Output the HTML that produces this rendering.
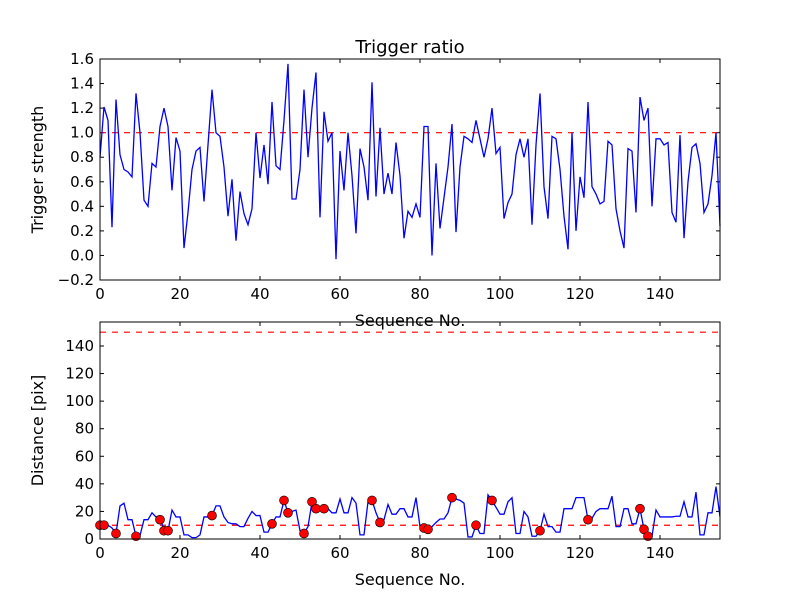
<!DOCTYPE html>
<html><head><meta charset="utf-8"><style>
body{margin:0;background:#fff}
svg{font-family:"DejaVu Sans","Liberation Sans",sans-serif}
</style></head><body>
<svg id="chart" width="800" height="600" xmlns="http://www.w3.org/2000/svg"></svg>
<script>
const strength=[0.8,1.21,1.1,0.23,1.27,0.82,0.7,0.68,0.64,1.32,1.0,0.45,0.4,0.75,0.72,1.05,1.2,1.05,0.53,0.96,0.85,0.06,0.35,0.7,0.85,0.88,0.44,0.9,1.35,1.0,0.97,0.72,0.32,0.62,0.12,0.52,0.34,0.25,0.38,1.0,0.63,0.9,0.58,1.25,0.73,0.7,1.1,1.56,0.46,0.46,0.7,1.35,0.8,1.2,1.49,0.31,1.17,0.93,1.0,-0.03,0.85,0.53,1.0,0.65,0.18,0.87,0.72,0.45,1.41,0.48,1.04,0.5,0.67,0.5,0.92,0.65,0.14,0.36,0.31,0.42,0.31,1.05,1.05,0.0,0.75,0.22,0.47,0.72,1.07,0.19,0.72,0.97,0.95,0.92,1.1,0.95,0.8,0.95,1.2,0.83,0.88,0.3,0.43,0.5,0.82,0.95,0.8,0.95,0.25,0.9,1.32,0.56,0.3,0.97,0.95,0.7,0.32,0.05,1.0,0.2,0.64,0.47,1.25,0.56,0.5,0.42,0.44,0.93,0.9,0.38,0.2,0.06,0.87,0.85,0.35,1.29,1.1,1.2,0.4,0.95,0.95,0.9,0.92,0.35,0.27,0.98,0.14,0.6,0.88,0.91,0.75,0.35,0.42,0.65,1.0,0.24];
const distance=[13,10,10,8,4,24,26,14,14,2,2.5,14,14,19,16,16,6,6,21,16,16,3,3,1,1,3,16,16,17,24,24,16,12,11,11,9,9,15,20,17,17,5,5,11,16,16,28,19,20,21,6,4,9,27,22,22,22,22,19,19,29,19,19,30,26,3,3,27,28,19,12,14,25,18,18,22,22,16,16,30,9,8,7,9,12,14.5,14.5,19,30,29,28,26,1.5,1.5,10,4,4,32,28,23,18,18,27,30,4,4,20,16,2,2,6,18,9,9,5,5,22,22,22,30,30,30,14,15,20,22,22,22,31,9,9,22,22,11,11,22,7,2,2,21,16,16,16,16,16.5,16.5,27,16,16,34,3,3,19,19,38,16];
const markIdx=[0,1,4,9,15,16,17,28,43,46,47,51,53,54,56,68,70,81,82,88,94,98,110,122,135,136,137];
const markVal=[10,10,4,2,14,6,6,17,11,28,19,4,27,22,22,28,12,8,7,30,10,28,6,14,22,7,2];
const topTicks=[-0.2,0,0.2,0.4,0.6,0.8,1.0,1.2,1.4,1.6];
const botTicks=[0,20,40,60,80,100,120,140];
const xTicks=[0,20,40,60,80,100,120,140];
const topRef=[1.0];
const botRef=[10,150];

const svg=document.getElementById('chart');
const NS='http://www.w3.org/2000/svg';
function mk(t,a,p){const e=document.createElementNS(NS,t);for(const k in a)e.setAttribute(k,a[k]);(p||svg).appendChild(e);return e;}
const L=100,R=720;
const xs=v=>L+(v/155)*(R-L);
const y1=v=>59+(1.6-v)/1.8*221;
const y2=v=>539-v*(217/157.4);

function axes(name,top,bot,ys,yt,fmt,ylabel){
  const g=mk('g',{});
  
  
  yt.forEach(t=>{const y=ys(t);
    mk('line',{x1:L,x2:L+4,y1:y,y2:y,stroke:'#000'},g);
    mk('line',{x1:R,x2:R-4,y1:y,y2:y,stroke:'#000'},g);
    const tx=mk('text',{x:L-6,y:y+5,'text-anchor':'end','font-size':15},g);tx.textContent=fmt(t);
    
    
  });
  xTicks.forEach(t=>{const x=xs(t);
    mk('line',{x1:x,x2:x,y1:bot,y2:bot-4,stroke:'#000'},g);
    mk('line',{x1:x,x2:x,y1:top,y2:top+4,stroke:'#000'},g);
    const tx=mk('text',{x:x,y:bot+19,'text-anchor':'middle','font-size':15},g);tx.textContent=t;
    
    
  });
  const xl=mk('text',{x:410,y:bot+46,'text-anchor':'middle','font-size':16},g);xl.textContent='Sequence No.';
  
  
  const cy=(top+bot)/2;
  const yl=mk('text',{x:0,y:0,'text-anchor':'middle','font-size':16,transform:`translate(${L-57},${cy}) rotate(-90)`},g);yl.textContent=ylabel;
  
  
  return g;
}
function frame(top,bot){const r=mk('rect',{x:L,y:top,width:R-L,height:bot-top,fill:'none',stroke:'#000','stroke-width':1});
  
  }

const title=mk('text',{x:410,y:53,'text-anchor':'middle','font-size':18});title.textContent='Trigger ratio';



// top panel
axes('top-axes',59,280,y1,topTicks,t=>t.toFixed(1).replace('-','\u2212'),'Trigger strength');
topRef.forEach(v=>{const l=mk('line',{x1:L,x2:R,y1:y1(v),y2:y1(v),stroke:'#f00','stroke-width':1.2,'stroke-dasharray':'6,6'});
  
  });
const p1=mk('polyline',{points:strength.map((v,i)=>xs(i)+','+y1(v)).join(' '),fill:'none',stroke:'#00f','stroke-width':1.3});


frame(59,280);

// bottom panel
axes('bottom-axes',322,539,y2,botTicks,t=>String(t),'Distance [pix]');
botRef.forEach(v=>{const l=mk('line',{x1:L,x2:R,y1:y2(v),y2:y2(v),stroke:'#f00','stroke-width':1.2,'stroke-dasharray':'6,6'});
  
  });
const cp=mk('clipPath',{id:'c2'});mk('rect',{x:L,y:322,width:R-L,height:217},cp);
const p2=mk('polyline',{points:distance.map((v,i)=>xs(i)+','+y2(v)).join(' '),fill:'none',stroke:'#00f','stroke-width':1.3,'clip-path':'url(#c2)'});


markIdx.forEach((ix,k)=>{const c=mk('circle',{cx:xs(ix),cy:y2(markVal[k]),r:4.5,fill:'#f00',stroke:'#000','stroke-width':0.6});
  
  });
frame(322,539);
</script>
</body></html>
